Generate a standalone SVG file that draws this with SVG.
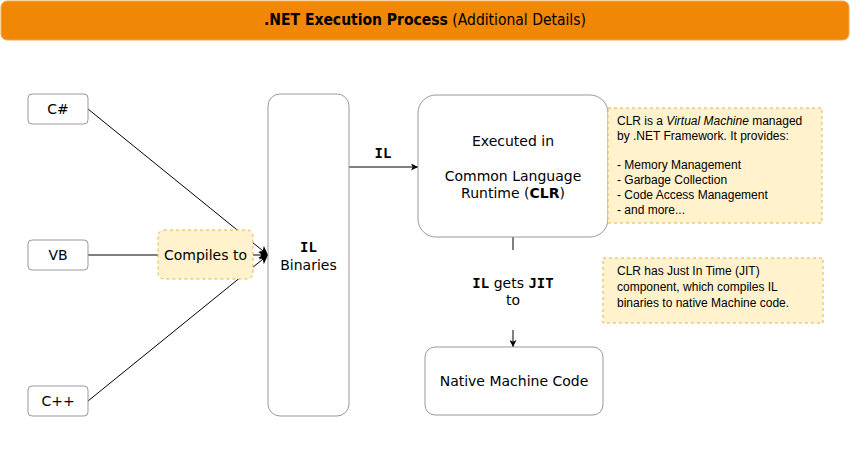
<svg xmlns="http://www.w3.org/2000/svg" width="851" height="471" viewBox="0 0 851 471">
<style>
.box{fill:#ffffff;stroke:#999999;stroke-width:1}
.note{fill:#fff2cc;stroke:#d6b656;stroke-width:1;stroke-dasharray:3 3}
.t{font-family:"DejaVu Sans",Verdana,sans-serif;font-size:14px;fill:#000;text-anchor:middle}
.b{font-weight:bold}
.mono{font-family:"DejaVu Sans Mono",monospace;font-weight:bold}
.n{font-family:"Liberation Sans",Arial,sans-serif;font-size:12px;fill:#000}
.c{fill:none;stroke:#000;stroke-width:1}
</style>
<defs>
<marker id="ah" viewBox="0 0 10 10" refX="10" refY="5" markerWidth="7" markerHeight="7" markerUnits="userSpaceOnUse" orient="auto">
<path d="M0,0 L10,5 L0,10 L2.5,5 z" fill="#000"/>
</marker>
<marker id="ah2" viewBox="0 0 10 10" refX="10" refY="5" markerWidth="9" markerHeight="9" markerUnits="userSpaceOnUse" orient="auto">
<path d="M0,0 L10,5 L0,10 L2.5,5 z" fill="#000"/>
</marker>
</defs>
<g id="title">
<rect x="1" y="1" width="848" height="39" rx="6" fill="#f08705" stroke="#f5a94f" stroke-width="1"/>
<text x="425" y="25" class="t" style="font-size:15.5px;font-family:'DejaVu Sans Condensed','DejaVu Sans',sans-serif;font-stretch:condensed"><tspan font-weight="bold">.NET Execution Process</tspan> (Additional Details)</text>
</g>
<g id="connectors">
<line class="c" x1="88" y1="109" x2="268" y2="255" marker-end="url(#ah2)"/>
<line class="c" x1="88" y1="255" x2="268" y2="255" marker-end="url(#ah2)"/>
<line class="c" x1="88" y1="401" x2="268" y2="255" marker-end="url(#ah2)"/>
<line class="c" x1="349" y1="167" x2="418" y2="167" stroke="#333" marker-end="url(#ah)"/>
<line class="c" x1="513" y1="237" x2="513" y2="250"/>
<line class="c" x1="513" y1="330" x2="513" y2="347" marker-end="url(#ah)"/>
<text x="383" y="158" class="t mono" font-size="13">IL</text>
<text x="513" y="288" class="t"><tspan class="mono">IL</tspan> gets <tspan class="mono">JIT</tspan></text>
<text x="513" y="305" class="t">to</text>
</g>
<g id="csharp">
<rect class="box" x="28" y="94" width="60" height="30" rx="4"/>
<text x="58" y="114" class="t">C#</text>
</g>
<g id="vb">
<rect class="box" x="28" y="240" width="60" height="30" rx="4"/>
<text x="58" y="260" class="t">VB</text>
</g>
<g id="cpp">
<rect class="box" x="28" y="386" width="60" height="30" rx="4"/>
<text x="58" y="406" class="t">C++</text>
</g>
<g id="compiles">
<rect class="note" x="158" y="230" width="95" height="49" rx="6"/>
<text x="205.5" y="260" class="t">Compiles to</text>
</g>
<g id="il-binaries">
<rect class="box" x="268" y="94" width="81" height="322" rx="12"/>
<text x="308.5" y="252" class="t mono">IL</text>
<text x="308.5" y="270" class="t">Binaries</text>
</g>
<g id="clr">
<rect class="box" x="418" y="95" width="190" height="142" rx="18"/>
<text x="513" y="146" class="t">Executed in</text>
<text x="513" y="181" class="t">Common Language</text>
<text x="513" y="198" class="t">Runtime (<tspan font-weight="bold">CLR</tspan>)</text>
</g>
<g id="note-clr">
<rect class="note" x="608" y="108" width="214" height="115"/>
<text class="n" x="617" y="125">CLR is a <tspan font-style="italic">Virtual Machine</tspan> managed</text>
<text class="n" x="617" y="140">by .NET Framework. It provides:</text>
<text class="n" x="617" y="169">- Memory Management</text>
<text class="n" x="617" y="184">- Garbage Collection</text>
<text class="n" x="617" y="199">- Code Access Management</text>
<text class="n" x="617" y="214">- and more...</text>
</g>
<g id="note-jit">
<rect class="note" x="603" y="258" width="220" height="65"/>
<text class="n" x="617" y="275">CLR has Just In Time (JIT)</text>
<text class="n" x="617" y="291">component, which compiles IL</text>
<text class="n" x="617" y="307">binaries to native Machine code.</text>
</g>
<g id="native">
<rect class="box" x="425" y="347" width="178" height="68" rx="10"/>
<text x="514" y="386" class="t">Native Machine Code</text>
</g>
</svg>
